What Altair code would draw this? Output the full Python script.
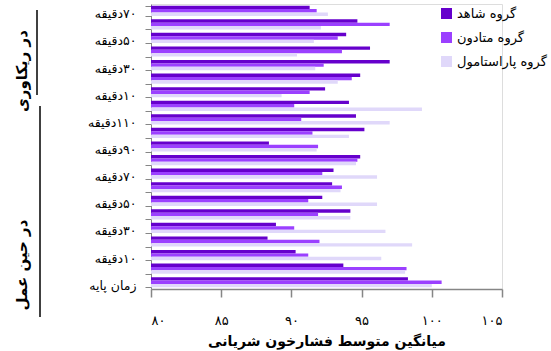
import json
import altair as alt
import pandas as pd

# categories from bottom (index 0) to top (index 20)
categories = ['زمان پایه', '۵دقیقه', '۱۰دقیقه', '۲۰دقیقه', '۳۰دقیقه', '۴۰دقیقه', '۵۰دقیقه',
              '۶۰دقیقه', '۷۰دقیقه', '۸۰دقیقه', '۹۰دقیقه', '۱۰۰دقیقه', '۱۱۰دقیقه', '۱۲۰دقیقه',
              '۱۰دقیقه', '۲۰دقیقه', '۳۰دقیقه', '۴۰دقیقه', '۵۰دقیقه', '۶۰دقیقه', '۷۰دقیقه']
series = ['گروه شاهد', 'گروه متادون', 'گروه پاراستامول']
colors = ['#6600CC', '#9B40FF', '#E0D8FA']

shahed = [98.3, 93.7, 90.3, 88.3, 88.9, 94.2, 92.2, 92.9, 93.0, 94.9, 88.4,
          95.2, 94.6, 94.1, 92.4, 94.9, 97.0, 95.6, 93.9, 94.7, 91.3]
methadone = [100.7, 98.2, 91.2, 92.0, 90.2, 91.9, 91.2, 93.6, 92.2, 94.7, 91.9,
             91.5, 90.7, 90.2, 91.3, 94.3, 92.3, 93.6, 93.3, 97.0, 91.8]
paracetamol = [100.0, 98.1, 96.4, 98.6, 96.7, 94.2, 96.1, 93.5, 96.1, 94.6, 91.8,
               94.1, 97.0, 99.3, 89.3, 93.3, 91.7, 90.4, 91.6, 92.1, 92.6]

x_ticks = [80, 85, 90, 95, 100, 105]
x_tick_labels = ['۸۰', '۸۵', '۹۰', '۹۵', '۱۰۰', '۱۰۵']

group_names = ['در ریکاوری', 'در حین عمل']
x_title = 'میانگین متوسط فشارخون شریانی'

rows = []
for name, vals in zip(series, [shahed, methadone, paracetamol]):
    for i, v in enumerate(vals):
        rows.append({'idx': i, 'series': name, 'value': v})
df = pd.DataFrame(rows)

FONT = 'DejaVu Sans'
y_label_arr = json.dumps(['\u200f' + c for c in categories], ensure_ascii=False)
y_label_expr = f"datum.value % 2 == 0 ? {y_label_arr}[datum.value] : ''"
x_label_expr = f"{json.dumps(x_tick_labels, ensure_ascii=False)}[(datum.value - 80) / 5]"

bars = alt.Chart(df).mark_bar().encode(
    y=alt.Y('idx:O', sort='descending',
            scale=alt.Scale(paddingInner=0.25, paddingOuter=0.125),
            axis=alt.Axis(title=None, labelExpr=y_label_expr, tickBand='extent',
                          tickSize=6, tickColor='#868686', domainColor='#868686',
                          labelFont=FONT, labelFontSize=12.5, labelColor='black',
                          labelPadding=9, labelOffset=3)),
    yOffset=alt.YOffset('series:N', sort=series, scale=alt.Scale(paddingInner=0, paddingOuter=0)),
    x=alt.X('value:Q', scale=alt.Scale(domain=[80, 105], zero=False, nice=False),
            axis=alt.Axis(values=x_ticks, labelExpr=x_label_expr, grid=False,
                          title=x_title, titleFont=FONT, titleFontSize=14, titleFontWeight='bold',
                          titleColor='black', titlePadding=7,
                          tickSize=8, tickColor='#868686', domainColor='#868686', domainWidth=1.5,
                          tickWidth=1.5,
                          labelFont=FONT, labelFontSize=13, labelColor='black', labelPadding=17)),
    x2=alt.datum(80),
    color=alt.Color('series:N', sort=series,
                    scale=alt.Scale(domain=series, range=colors),
                    legend=alt.Legend(title=None, orient='none', legendX=289, legendY=3,
                                      symbolType='square', symbolSize=121, symbolStrokeWidth=0,
                                      labelFont=FONT, labelFontSize=13, labelColor='black',
                                      rowPadding=10, labelOffset=4)),
)

ann = pd.DataFrame({'a': [0]})
rec_line = alt.Chart(ann).mark_rule(color='black', strokeWidth=1.5).encode(
    x=alt.value(-114), y=alt.value(6), y2=alt.value(91))
dur_line = alt.Chart(ann).mark_rule(color='black', strokeWidth=1.5).encode(
    x=alt.value(-111), y=alt.value(102), y2=alt.value(313))
rec_text = alt.Chart(ann).mark_text(angle=270, font=FONT, fontSize=15, fontWeight='bold',
                                    color='black').encode(
    x=alt.value(-129), y=alt.value(67), text=alt.value(group_names[0]))
dur_text = alt.Chart(ann).mark_text(angle=270, font=FONT, fontSize=15, fontWeight='bold',
                                    color='black').encode(
    x=alt.value(-129), y=alt.value(261), text=alt.value(group_names[1]))

chart = alt.layer(bars, rec_line, dur_line, rec_text, dur_text).properties(
    width=351, height=285,
    autosize=alt.AutoSizeParams(type='none'),
    padding={'left': 151, 'top': 4, 'right': 49, 'bottom': 62},
).configure_view(stroke=None).configure(background='white')

chart.save('out.html', embed_options={'renderer': 'svg', 'actions': False})
